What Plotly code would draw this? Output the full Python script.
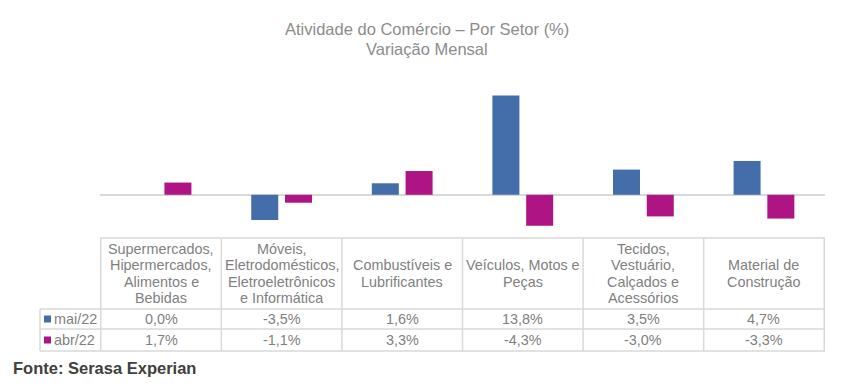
import plotly.graph_objects as go

# ---- data ----
categories = [
    "Supermercados,\nHipermercados,\nAlimentos e\nBebidas",
    "Móveis,\nEletrodomésticos,\nEletroeletrônicos\ne Informática",
    "Combustíveis e\nLubrificantes",
    "Veículos, Motos e\nPeças",
    "Tecidos,\nVestuário,\nCalçados e\nAcessórios",
    "Material de\nConstrução",
]
series_names = ["mai/22", "abr/22"]
mai22 = [0.0, -3.5, 1.6, 13.8, 3.5, 4.7]
abr22 = [1.7, -1.1, 3.3, -4.3, -3.0, -3.3]
title_lines = ["Atividade do Comércio – Por Setor (%)", "Variação Mensal"]
source_text = "Fonte: Serasa Experian"

# ---- style ----
# the page body has an 8px margin; figure is sized to fit inside it
OFF = 8
W, H = 849 - 2 * OFF, 388 - 2 * OFF
colors = ["#436EAA", "#AE1483"]
FONT = "Liberation Sans, Arial, sans-serif"
txt_color = "#7f7f7f"
grid_color = "#d9d9d9"

def px(x):
    return (x - OFF) / W

def py(y):
    return 1 - (y - OFF) / H

plot_left, plot_right = 100, 825
plot_top, plot_bottom = 94, 238
y_range = [-6, 14]

fig = go.Figure()
for name, vals, col in zip(series_names, [mai22, abr22], colors):
    fig.add_trace(go.Bar(x=categories, y=vals, name=name, marker_color=col,
                         marker_line_width=0, showlegend=False))

fig.update_layout(
    width=W, height=H,
    margin=dict(l=0, r=0, t=0, b=0),
    paper_bgcolor="white", plot_bgcolor="white",
    barmode="group", bargap=0.44, bargroupgap=0.2,
    font=dict(family=FONT, color=txt_color),
    xaxis=dict(domain=[px(plot_left), px(plot_right)], showticklabels=False,
               showgrid=False, zeroline=False, showline=False, ticks=""),
    yaxis=dict(domain=[py(plot_bottom), py(plot_top)], range=y_range,
               showticklabels=False, showgrid=False, zeroline=True,
               zerolinecolor=grid_color, zerolinewidth=2, showline=False, ticks=""),
)

shapes = []
annotations = []

# title
for i, t in enumerate(title_lines):
    annotations.append(dict(text=t, x=px(427), y=py(29.5 + 19 * i), xref="paper", yref="paper",
                            xanchor="center", yanchor="middle", showarrow=False,
                            font=dict(size=16.5, color="#8c8c8c", family=FONT)))

# table lines
row_y = [238, 309, 329, 351]
lw = 1.5
shapes.append(dict(type="line", xref="paper", yref="paper", x0=px(plot_left), x1=px(plot_right),
                   y0=py(238), y1=py(238), line=dict(color=grid_color, width=lw)))
for yy in row_y[1:]:
    shapes.append(dict(type="line", xref="paper", yref="paper", x0=px(40), x1=px(plot_right),
                       y0=py(yy), y1=py(yy), line=dict(color=grid_color, width=lw)))
for i in range(len(categories) + 1):
    shapes.append(dict(type="line", xref="x", yref="paper", x0=i - 0.5, x1=i - 0.5,
                       y0=py(238), y1=py(351), line=dict(color=grid_color, width=lw)))
shapes.append(dict(type="line", xref="paper", yref="paper", x0=px(40), x1=px(40),
                   y0=py(309), y1=py(351), line=dict(color=grid_color, width=lw)))

# header labels
header_mid = 273.5
line_h = 16.3
for i, cat in enumerate(categories):
    lines = cat.split("\n")
    n = len(lines)
    for j, ln in enumerate(lines):
        yy = header_mid + (j - (n - 1) / 2) * line_h
        annotations.append(dict(text=ln, x=i, y=py(yy), xref="x", yref="paper",
                                xanchor="center", yanchor="middle", showarrow=False,
                                font=dict(size=14.4, color=txt_color, family=FONT)))

# value rows + legend keys
def fmt(v):
    return f"{v:.1f}".replace(".", ",") + "%"

for r, (name, vals, col) in enumerate(zip(series_names, [mai22, abr22], colors)):
    yy = [319, 340][r]
    for i, v in enumerate(vals):
        annotations.append(dict(text=fmt(v), x=i, y=py(yy), xref="x", yref="paper",
                                xanchor="center", yanchor="middle", showarrow=False,
                                font=dict(size=14.4, color=txt_color, family=FONT)))
    shapes.append(dict(type="rect", xref="paper", yref="paper", x0=px(44), x1=px(51),
                       y0=py(yy + 3.5), y1=py(yy - 3.5), fillcolor=col, line=dict(width=0)))
    annotations.append(dict(text=name, x=px(52), y=py(yy), xref="paper", yref="paper",
                            xanchor="left", yanchor="middle", showarrow=False,
                            font=dict(size=14.4, color=txt_color, family=FONT)))

# source
annotations.append(dict(text="<b>" + source_text + "</b>", x=px(11), y=py(368), xref="paper",
                        yref="paper", xanchor="left", yanchor="middle", showarrow=False,
                        font=dict(size=16.5, color="#404040", family=FONT)))

fig.update_layout(shapes=shapes, annotations=annotations)
fig.write_html("out.html")
